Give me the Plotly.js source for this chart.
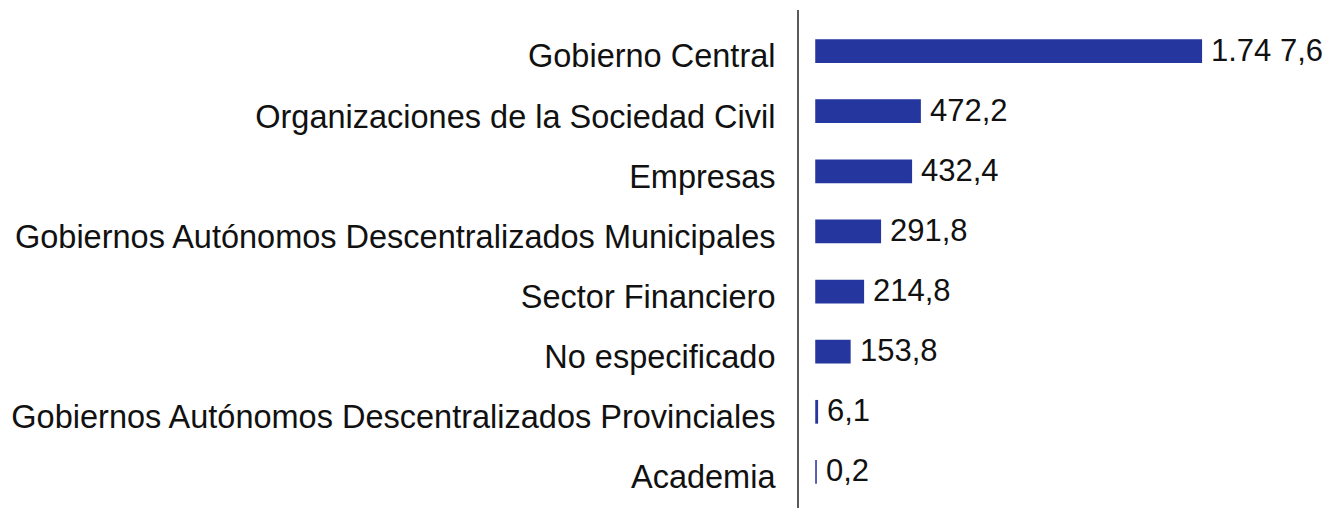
<!DOCTYPE html>
<html>
<head>
<meta charset="utf-8">
<script src="https://cdn.plot.ly/plotly-3.0.1.min.js"></script>
<style>html,body{margin:0;padding:0;background:#fff;}#chart{width:1335px;height:508px;}</style>
</head>
<body>
<div id="chart"></div>
<script>
const categories = [
  "Gobierno Central",
  "Organizaciones de la Sociedad Civil",
  "Empresas",
  "Gobiernos Autónomos Descentralizados Municipales",
  "Sector Financiero",
  "No especificado",
  "Gobiernos Autónomos Descentralizados Provinciales",
  "Academia"
];
const values = [1747.6, 472.2, 432.4, 291.8, 214.8, 153.8, 6.1, 0.2];
const valueLabels = ["1.74 7,6", "472,2", "432,4", "291,8", "214,8", "153,8", "6,1", "0,2"];

const FONT = "Liberation Sans, Arial, Helvetica, sans-serif";
const BAR = "#25369f";

const trace = {
  type: "bar",
  orientation: "h",
  x: values,
  y: categories,
  width: 0.37,
  marker: {color: BAR, line: {width: 1.5, color: BAR}},
  hoverinfo: "none"
};

const annotations = values.map((v, i) => ({
  x: v, y: categories[i], xref: "x", yref: "y",
  text: valueLabels[i], showarrow: false,
  xanchor: "left", yanchor: "middle", xshift: 8, yshift: 1,
  font: {family: FONT, size: 31, color: "#111"}
}));

const layout = {
  width: 1335, height: 508,
  margin: {l: 798, r: 0, t: 21, b: 6, pad: 0},
  paper_bgcolor: "#fff", plot_bgcolor: "#fff",
  showlegend: false,
  bargap: 0.63,
  xaxis: {
    range: [-81.6, 2353.8],
    showgrid: false, zeroline: false, showline: false,
    showticklabels: false, ticks: "", fixedrange: true
  },
  yaxis: {
    type: "category",
    categoryorder: "array", categoryarray: categories,
    range: [7.5, -0.5],
    showgrid: false, zeroline: false, showline: false,
    ticks: "outside", ticklen: 15, tickcolor: "rgba(0,0,0,0)",
    ticklabelshift: -5,
    tickfont: {family: FONT, size: 32.5, color: "#111"},
    fixedrange: true
  },
  shapes: [{
    type: "line", xref: "paper", yref: "paper",
    x0: 0, x1: 0, y0: -6/481, y1: 1 + 11/481,
    line: {color: "#5a5a5a", width: 2}
  }],
  annotations: annotations
};

Plotly.newPlot("chart", [trace], layout, {displayModeBar: false, staticPlot: true});
</script>
</body>
</html>
